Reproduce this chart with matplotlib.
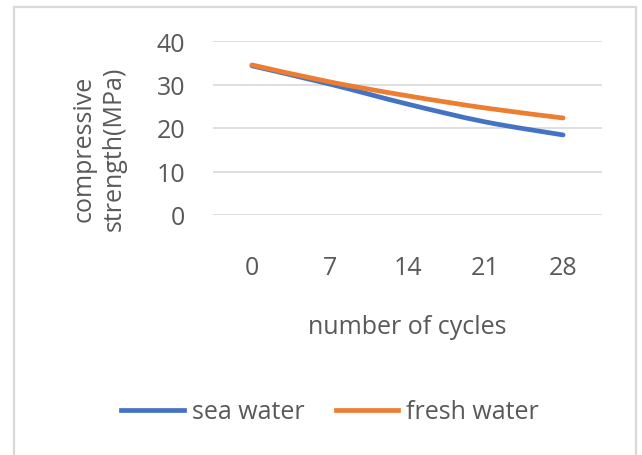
"""Compressive strength vs. number of wet/dry cycles"""
import numpy as np
import matplotlib
matplotlib.use("Agg")
import matplotlib.pyplot as plt
from matplotlib.path import Path
from matplotlib.patches import PathPatch, Rectangle
from matplotlib.lines import Line2D

# data
cycles = ["0", "7", "14", "21", "28"]
sea_water = [34.3, 30.1, 25.5, 21.4, 18.4]
fresh_water = [34.5, 30.6, 27.4, 24.6, 22.3]
y_ticks = [0, 10, 20, 30, 40]

BLUE = "#4472C4"
ORANGE = "#ED7D31"
GREY = "#595959"
FONT = "Open Sans"
FS = 18


def smooth_path(x, y, tension=1/6):
    """Cubic bezier path through the points (Catmull-Rom style smoothing)."""
    pts = np.column_stack([x, y]).astype(float)
    n = len(pts)
    verts = [pts[0]]
    codes = [Path.MOVETO]
    for i in range(n - 1):
        p0 = pts[max(i - 1, 0)]
        p1 = pts[i]
        p2 = pts[i + 1]
        p3 = pts[min(i + 2, n - 1)]
        c1 = p1 + (p2 - p0) * tension
        c2 = p2 - (p3 - p1) * tension
        verts += [c1, c2, p2]
        codes += [Path.CURVE4] * 3
    return Path(verts, codes)


fig = plt.figure(figsize=(6.42, 4.56), dpi=100)
ax = fig.add_axes([213/642, 1-216/456, 389/642, 174/456])

xpos = np.arange(len(cycles))
for vals, col in [(sea_water, BLUE), (fresh_water, ORANGE)]:
    patch = PathPatch(smooth_path(xpos, vals), facecolor="none", edgecolor=col,
                      lw=3.4, capstyle="round", joinstyle="round", zorder=3)
    ax.add_patch(patch)

ax.set_xlim(-0.5, len(cycles) - 0.5)
ax.set_ylim(0, 40)
ax.set_xticks(xpos)
ax.set_xticklabels(cycles)
ax.set_yticks(y_ticks)
ax.grid(axis="y", color="#d9d9d9", lw=1.2)
ax.set_axisbelow(True)
for s in ax.spines.values():
    s.set_visible(False)
ax.tick_params(axis="both", length=0, colors=GREY, labelsize=FS)
ax.tick_params(axis="x", pad=29)
ax.tick_params(axis="y", pad=20)
for lab in ax.get_xticklabels() + ax.get_yticklabels():
    lab.set_fontfamily(FONT)

fig.text(407/642, 1-328/456, "number of cycles", ha="center", va="center",
         fontsize=FS, color=GREY, family=FONT)
fig.text(99/642, 1-149/456, "compressive\nstrength(MPa)", ha="center", va="center",
         rotation=90, fontsize=FS, color=GREY, family=FONT, linespacing=1.3)

handles = [Line2D([], [], color=BLUE, lw=3.4), Line2D([], [], color=ORANGE, lw=3.4)]
fig.legend(handles, ["sea water", "fresh water"], loc="center",
           bbox_to_anchor=(330/642, 1-413/456), ncol=2, frameon=False,
           prop={"family": FONT, "size": FS}, labelcolor=GREY,
           handlelength=2.5, handletextpad=0.32, columnspacing=1.25)

# chart frame
fig.add_artist(Rectangle((14/642, -0.05), 622/642, 1.05 - 8/456,
                         transform=fig.transFigure, fill=False,
                         edgecolor="#d9d9d9", lw=1.6))

fig.savefig("out.png", dpi=100)
